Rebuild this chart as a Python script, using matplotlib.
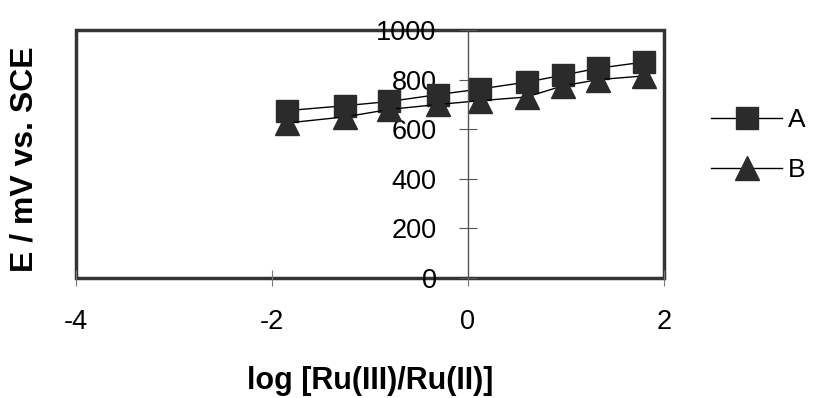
import matplotlib.pyplot as plt
import matplotlib
matplotlib.rcParams['font.family'] = ['Liberation Sans', 'DejaVu Sans']
matplotlib.rcParams['axes.unicode_minus'] = False

# data
log_ratio = [-1.85, -1.25, -0.8, -0.3, 0.12, 0.6, 0.97, 1.33, 1.8]
E_A = [675, 695, 712, 740, 762, 790, 818, 846, 871]
E_B = [625, 650, 680, 700, 715, 730, 775, 800, 815]
xticks = [-4, -2, 0, 2]
yticks = [0, 200, 400, 600, 800, 1000]

fig = plt.figure(figsize=(8.29, 3.98), dpi=100)
ax = fig.add_axes([0.0917, 0.3015, 0.709, 0.623])

ax.plot(log_ratio, E_A, color='black', lw=1, marker='s', ms=16,
        mfc='#2b2b2b', mec='#2b2b2b', label='A')
ax.plot(log_ratio, E_B, color='black', lw=1, marker='^', ms=17,
        mfc='#2b2b2b', mec='#2b2b2b', label='B')

ax.set_xlim(-4, 2)
ax.set_ylim(0, 1000)

# y axis crosses at x = 0, outer frame drawn by the patch
for s in ['top', 'right', 'bottom']:
    ax.spines[s].set_visible(False)
ax.spines['left'].set_position(('data', 0))
ax.spines['left'].set_linewidth(1)
ax.spines['left'].set_color('#555555')
ax.patch.set_edgecolor('#333333')
ax.patch.set_linewidth(2.5)

ax.set_xticks(xticks)
ax.set_yticks(yticks)
ax.tick_params(axis='x', direction='inout', length=11, pad=17, labelsize=19.5,
               color='#777777')
ax.tick_params(axis='y', direction='inout', length=13, pad=16, labelsize=19.5,
               color='#555555')

ax.set_xlabel('log [Ru(III)/Ru(II)]', fontsize=22, fontweight='bold', labelpad=22)
fig.text(0.03, 0.60, 'E / mV vs. SCE', rotation=90, fontsize=23,
         fontweight='bold', ha='center', va='center')

leg = ax.legend(loc='center left', bbox_to_anchor=(1.04, 0.536), frameon=False,
                fontsize=19, handlelength=2.7, handletextpad=0.2,
                labelspacing=1.0)

plt.savefig('out.png', dpi=100)
